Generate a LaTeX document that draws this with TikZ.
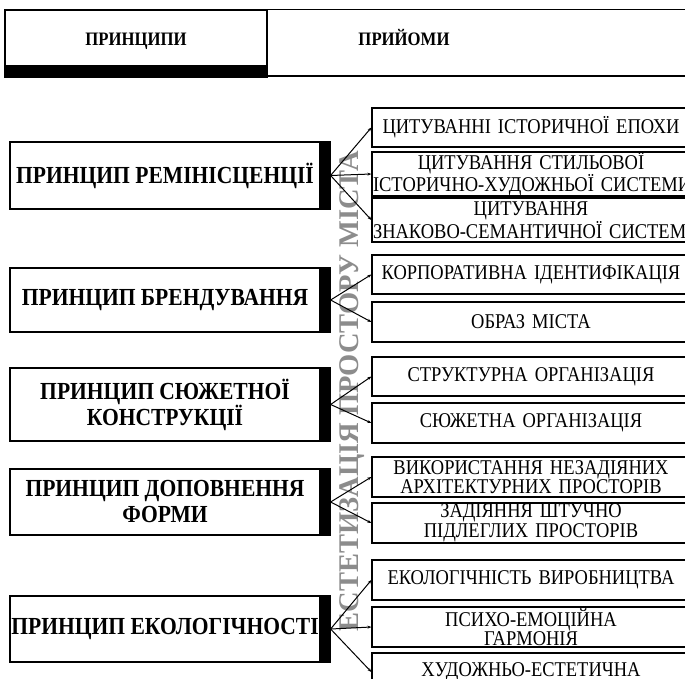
\documentclass[tikz,border=0pt]{standalone}
\usepackage{fontspec}
\setmainfont{Liberation Serif}[FakeStretch=0.88]
\newfontfamily\uprightlabel{Liberation Serif}
\usetikzlibrary{arrows.meta}

\begin{document}
\begin{tikzpicture}[x=1pt,y=-1pt,
  princbox/.style={draw,line width=1.2pt,minimum width=310pt,inner xsep=1pt,inner ysep=2pt,align=center,
    font=\bfseries\fontsize{24.5}{26}\selectfont},
  techbox/.style={draw,line width=1.2pt,text width=316pt,inner xsep=1pt,inner ysep=0pt,align=center,
    font=\fontsize{21}{19.5}\selectfont},
  fan/.style={line width=1pt,-{Stealth[length=4pt,width=3pt]}}]
  \useasboundingbox (0,0) rectangle (685,679);
  \clip (0,0) rectangle (685,679);
  \fill[white] (0,0) rectangle (685,679);

  \node[rotate=90,text=black!45,font=\uprightlabel\bfseries\fontsize{28.5}{28.5}\selectfont] (vlabel) at (352,391) {ЕСТЕТИЗАЦІЯ ПРОСТОРУ МІСТА};

  % header
  \node[draw,line width=1.2pt,minimum width=262pt,minimum height=56pt,text height=16pt,text depth=0pt,font=\bfseries\fontsize{19}{20}\selectfont] (hprin) at (136,38) {ПРИНЦИПИ};
  \fill (hprin.south west) rectangle ([yshift=-11pt]hprin.south east);
  \draw[line width=1.2pt] (hprin.north east) rectangle (700,76);
  \node[text height=16pt,text depth=0pt,font=\bfseries\fontsize{19}{20}\selectfont] (hprij) at (404,38) {ПРИЙОМИ};

  % principles
  \node[princbox,minimum height=67pt] (p1) at (165,175.5) {ПРИНЦИП РЕМІНІСЦЕНЦІЇ};
  \node[princbox,minimum height=64pt] (p2) at (165,300) {ПРИНЦИП БРЕНДУВАННЯ};
  \node[princbox,minimum height=73pt] (p3) at (165,404.5) {ПРИНЦИП СЮЖЕТНОЇ\\КОНСТРУКЦІЇ};
  \node[princbox,minimum height=66pt] (p4) at (165,502) {ПРИНЦИП ДОПОВНЕННЯ\\ФОРМИ};
  \node[princbox,minimum height=66pt] (p5) at (165,629) {ПРИНЦИП ЕКОЛОГІЧНОСТІ};
  \foreach \p in {p1,p2,p3,p4,p5}
    \fill ([yshift=0.6pt]\p.north east) rectangle ([xshift=10pt,yshift=-0.6pt]\p.south east);

  % techniques
  \node[techbox,minimum height=39pt] (t11) at (531,127.5) {\mbox{ЦИТУВАННІ ІСТОРИЧНОЇ ЕПОХИ}};
  \node[techbox,minimum height=44pt] (t12) at (531,174) {\mbox{ЦИТУВАННЯ СТИЛЬОВОЇ}\\\mbox{ІСТОРИЧНО-ХУДОЖНЬОЇ СИСТЕМИ}};
  \node[techbox,minimum height=44pt] (t13) at (531,220) {\mbox{ЦИТУВАННЯ}\\\mbox{ЗНАКОВО-СЕМАНТИЧНОЇ СИСТЕМИ}};
  \node[techbox,minimum height=39pt] (t21) at (531,274.5) {\mbox{КОРПОРАТИВНА ІДЕНТИФІКАЦІЯ}};
  \node[techbox,minimum height=40pt] (t22) at (531,322) {ОБРАЗ МІСТА};
  \node[techbox,minimum height=39pt] (t31) at (531,376.5) {СТРУКТУРНА ОРГАНІЗАЦІЯ};
  \node[techbox,minimum height=40pt] (t32) at (531,423) {СЮЖЕТНА ОРГАНІЗАЦІЯ};
  \node[techbox,minimum height=40pt] (t41) at (531,477) {\mbox{ВИКОРИСТАННЯ НЕЗАДІЯНИХ}\\\mbox{АРХІТЕКТУРНИХ ПРОСТОРІВ}};
  \node[techbox,minimum height=40pt] (t42) at (531,523) {\mbox{ЗАДІЯННЯ ШТУЧНО}\\\mbox{ПІДЛЕГЛИХ ПРОСТОРІВ}};
  \node[techbox,minimum height=40pt] (t51) at (531,580) {\mbox{ЕКОЛОГІЧНІСТЬ ВИРОБНИЦТВА}};
  \node[techbox,minimum height=40pt] (t52) at (531,627) {\mbox{ПСИХО-ЕМОЦІЙНА}\\\mbox{ГАРМОНІЯ}};
  \node[techbox,minimum height=38pt] (t53) at (531,672) {\mbox{ХУДОЖНЬО-ЕСТЕТИЧНА}};

  \foreach \t in {t11,t12,t13} \draw[fan] ([xshift=10pt]p1.east) -- (\t.west);
  \foreach \t in {t21,t22} \draw[fan] ([xshift=10pt]p2.east) -- (\t.west);
  \foreach \t in {t31,t32} \draw[fan] ([xshift=10pt]p3.east) -- (\t.west);
  \foreach \t in {t41,t42} \draw[fan] ([xshift=10pt]p4.east) -- (\t.west);
  \foreach \t in {t51,t52,t53} \draw[fan] ([xshift=10pt]p5.east) -- (\t.west);
\end{tikzpicture}
\end{document}
